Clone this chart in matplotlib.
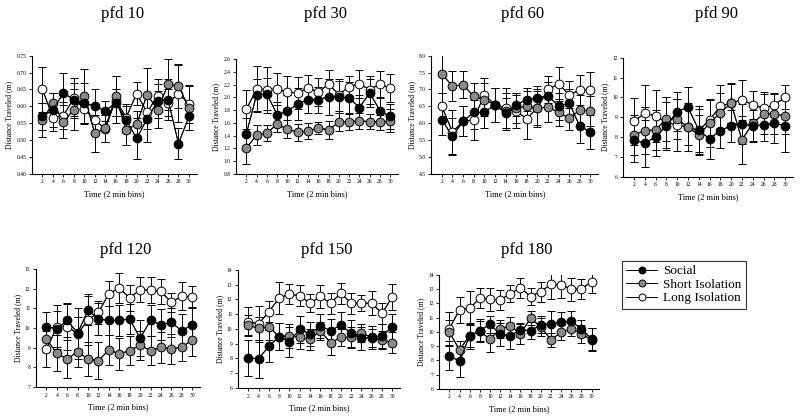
import numpy as np
import matplotlib
matplotlib.use("Agg")
import matplotlib.pyplot as plt
from matplotlib.ticker import FormatStrFormatter

plt.rcParams['font.family'] = ['Liberation Serif', 'DejaVu Serif']

# Time bins (2 min bins)
bins = [2, 4, 6, 8, 10, 12, 14, 16, 18, 20, 22, 24, 26, 28, 30]

# pfd 10
p10_social = [0.57, 0.59, 0.64, 0.62, 0.61, 0.60, 0.587, 0.61, 0.56, 0.505, 0.563, 0.615, 0.62, 0.49, 0.57]
p10_social_err = [0.04, 0.05, 0.06, 0.05, 0.06, 0.05, 0.03, 0.04, 0.04, 0.06, 0.07, 0.05, 0.06, 0.045, 0.04]
p10_short = [0.56, 0.61, 0.555, 0.59, 0.63, 0.52, 0.535, 0.63, 0.53, 0.547, 0.635, 0.59, 0.665, 0.66, 0.595]
p10_short_err = [0.05, 0.03, 0.05, 0.06, 0.08, 0.055, 0.04, 0.06, 0.045, 0.04, 0.08, 0.055, 0.075, 0.065, 0.065]
p10_long = [0.65, 0.567, 0.572, 0.625, 0.592, 0.56, 0.533, 0.62, 0.567, 0.638, 0.582, 0.632, 0.61, 0.638, 0.607]
p10_long_err = [0.067, 0.04, 0.04, 0.06, 0.045, 0.04, 0.04, 0.07, 0.04, 0.035, 0.05, 0.05, 0.04, 0.085, 0.055]

# pfd 30
p30_social = [1.425, 2.04, 2.05, 1.73, 1.78, 1.90, 1.96, 1.96, 2.01, 2.00, 1.99, 1.84, 2.07, 1.79, 1.70]
p30_social_err = [0.25, 0.25, 0.25, 0.20, 0.25, 0.25, 0.20, 0.20, 0.28, 0.25, 0.25, 0.20, 0.22, 0.20, 0.20]
p30_short = [1.20, 1.41, 1.44, 1.58, 1.50, 1.45, 1.47, 1.52, 1.49, 1.61, 1.62, 1.63, 1.62, 1.61, 1.63]
p30_short_err = [0.25, 0.15, 0.12, 0.12, 0.14, 0.13, 0.12, 0.10, 0.14, 0.14, 0.13, 0.12, 0.12, 0.12, 0.18]
p30_long = [1.81, 2.13, 2.12, 2.13, 2.08, 2.07, 2.15, 2.08, 2.21, 2.04, 2.17, 2.21, 2.12, 2.21, 2.14]
p30_long_err = [0.30, 0.36, 0.36, 0.25, 0.25, 0.25, 0.20, 0.22, 0.22, 0.25, 0.17, 0.22, 0.22, 0.20, 0.22]

# pfd 60
p60_social = [6.11, 5.61, 6.06, 6.32, 6.32, 6.55, 6.30, 6.55, 6.70, 6.75, 6.82, 6.50, 6.60, 5.91, 5.75]
p60_social_err = [0.45, 0.55, 0.45, 0.50, 0.45, 0.50, 0.45, 0.35, 0.35, 0.35, 0.40, 0.40, 0.40, 0.50, 0.50]
p60_short = [7.46, 7.10, 7.14, 6.80, 6.70, 6.55, 6.35, 6.45, 6.50, 6.45, 6.48, 6.32, 6.15, 6.39, 6.37]
p60_short_err = [0.55, 0.45, 0.40, 0.40, 0.50, 0.50, 0.55, 0.45, 0.45, 0.50, 0.45, 0.40, 0.35, 0.45, 0.45]
p60_long = [6.50, 5.74, 6.06, 6.10, 6.85, 6.55, 6.45, 6.35, 6.14, 6.45, 7.00, 7.16, 6.85, 6.98, 6.98]
p60_long_err = [0.40, 0.65, 0.45, 0.60, 0.50, 0.50, 0.60, 0.50, 0.60, 0.55, 0.40, 0.50, 0.40, 0.45, 0.55]

# pfd 90
p90_social = [7.86, 7.69, 8.03, 8.57, 9.29, 9.51, 8.36, 7.91, 8.33, 8.58, 8.67, 8.57, 8.62, 8.70, 8.57]
p90_social_err = [1.1, 1.2, 1.0, 1.2, 1.0, 1.0, 1.2, 1.0, 0.9, 0.8, 1.0, 0.8, 0.8, 1.0, 1.3]
p90_short = [8.11, 8.33, 8.36, 8.92, 8.92, 8.50, 8.11, 8.70, 9.24, 9.70, 7.86, 8.70, 9.17, 9.17, 9.07]
p90_short_err = [1.0, 1.2, 1.0, 1.1, 1.0, 0.9, 1.0, 1.2, 1.0, 1.0, 1.2, 0.9, 1.0, 1.0, 0.9]
p90_long = [8.79, 9.21, 9.07, 8.74, 8.62, 8.50, 8.33, 8.87, 9.55, 9.72, 9.89, 9.63, 9.46, 9.63, 10.02]
p90_long_err = [1.2, 1.4, 1.3, 1.3, 1.3, 1.2, 1.1, 1.0, 1.1, 1.0, 1.0, 0.7, 0.8, 0.6, 0.6]

# pfd 120
p120_social = [10.08, 9.95, 10.39, 9.75, 10.90, 10.46, 10.39, 10.39, 10.46, 9.49, 10.39, 10.17, 10.29, 9.86, 10.17]
p120_social_err = [0.75, 0.9, 0.85, 0.8, 0.75, 0.8, 0.75, 0.8, 0.75, 0.9, 0.8, 0.8, 0.75, 0.85, 0.9]
p120_short = [9.44, 8.73, 8.42, 8.81, 8.42, 8.34, 8.90, 8.69, 8.86, 9.12, 8.86, 9.02, 8.95, 9.02, 9.41]
p120_short_err = [0.65, 0.9, 0.95, 0.8, 0.85, 0.95, 0.75, 0.8, 0.75, 0.75, 0.75, 0.8, 0.75, 0.7, 0.85]
p120_long = [8.93, 10.05, 10.08, 9.71, 10.42, 10.80, 11.75, 12.03, 11.53, 11.95, 11.92, 11.86, 11.30, 11.63, 11.58]
p120_long_err = [0.9, 1.1, 1.2, 1.3, 1.3, 0.6, 0.65, 0.75, 0.65, 0.65, 0.65, 0.65, 0.5, 0.7, 0.55]

# pfd 150
p150_social = [8.04, 7.97, 8.83, 9.47, 9.13, 9.97, 9.65, 10.20, 9.88, 10.26, 9.70, 9.36, 9.42, 9.54, 10.10]
p150_social_err = [1.2, 1.3, 1.1, 0.9, 1.0, 0.9, 0.8, 0.8, 0.8, 0.9, 0.9, 0.8, 0.8, 0.8, 0.9]
p150_short = [10.26, 10.04, 10.15, 9.47, 9.54, 9.42, 9.29, 9.88, 9.06, 9.42, 9.42, 9.74, 9.40, 9.24, 9.08]
p150_short_err = [0.7, 0.8, 0.9, 0.9, 0.8, 0.8, 0.7, 0.6, 0.8, 0.6, 0.7, 0.6, 0.6, 0.6, 0.7]
p150_long = [10.49, 10.33, 11.17, 12.08, 12.37, 12.24, 11.74, 12.20, 11.74, 12.42, 11.74, 11.74, 11.74, 11.06, 12.15]
p150_long_err = [1.0, 1.2, 0.7, 1.1, 0.7, 0.7, 0.6, 0.8, 0.7, 0.7, 0.7, 0.55, 0.8, 0.7, 0.9]

# pfd 180
p180_social = [8.33, 7.93, 9.73, 10.08, 10.52, 9.84, 9.73, 10.15, 10.08, 10.50, 10.57, 10.66, 10.73, 10.21, 9.50]
p180_social_err = [1.0, 1.1, 0.9, 0.8, 0.6, 0.8, 0.9, 0.5, 0.6, 0.6, 0.9, 0.7, 0.7, 0.6, 0.8]
p180_short = [9.96, 8.75, 9.73, 10.03, 9.50, 10.20, 10.43, 9.85, 10.97, 10.34, 9.45, 9.96, 10.22, 9.85, 9.45]
p180_short_err = [0.9, 0.6, 0.8, 0.7, 0.9, 0.6, 0.6, 0.7, 0.5, 0.6, 0.5, 0.5, 0.5, 0.6, 0.8]
p180_long = [10.22, 11.55, 11.66, 12.36, 12.29, 12.25, 12.67, 13.11, 12.48, 12.83, 13.34, 13.30, 13.00, 13.00, 13.53]
p180_long_err = [1.2, 0.9, 1.2, 0.7, 0.8, 0.7, 0.6, 0.7, 0.6, 0.7, 1.0, 0.9, 0.8, 0.7, 0.8]

panels = [
    # title, axes rect, ylim, ystep, fmt, data
    ("pfd 10", [0.040, 0.585, 0.206, 0.282], (0.40, 0.75), 0.05, '%.2f',
     (p10_social, p10_social_err, p10_short, p10_short_err, p10_long, p10_long_err)),
    ("pfd 30", [0.295, 0.585, 0.2025, 0.274], (0.8, 2.6), 0.2, '%.1f',
     (p30_social, p30_social_err, p30_short, p30_short_err, p30_long, p30_long_err)),
    ("pfd 60", [0.539, 0.585, 0.209, 0.282], (4.5, 8.0), 0.5, '%.1f',
     (p60_social, p60_social_err, p60_short, p60_short_err, p60_long, p60_long_err)),
    ("pfd 90", [0.779, 0.578, 0.2125, 0.284], (6, 12), 1, '%d',
     (p90_social, p90_social_err, p90_short, p90_short_err, p90_long, p90_long_err)),
    ("pfd 120", [0.045, 0.076, 0.205, 0.282], (7, 13), 1, '%d',
     (p120_social, p120_social_err, p120_short, p120_short_err, p120_long, p120_long_err)),
    ("pfd 150", [0.2975, 0.074, 0.2025, 0.282], (6, 14), 1, '%d',
     (p150_social, p150_social_err, p150_short, p150_short_err, p150_long, p150_long_err)),
    ("pfd 180", [0.549, 0.072, 0.20, 0.272], (6, 14), 1, '%d',
     (p180_social, p180_social_err, p180_short, p180_short_err, p180_long, p180_long_err)),
]

fig = plt.figure(figsize=(8, 4.19), dpi=100)

styles = [("Long Isolation", "white"), ("Short Isolation", "#8a8a8a"), ("Social", "black")]

handles = {}
for title, rect, ylim, ystep, fmt, data in panels:
    ax = fig.add_axes(rect)
    soc, soc_e, sho, sho_e, lon, lon_e = data
    series = {"Social": (soc, soc_e), "Short Isolation": (sho, sho_e), "Long Isolation": (lon, lon_e)}
    for name, fc in styles:
        y, e = series[name]
        ax.errorbar(bins, y, yerr=e, color='black', lw=0.7, elinewidth=0.7,
                    capsize=3, capthick=0.7, zorder=2)
        h, = ax.plot(bins, y, 'o-', color='black', lw=0.7, markersize=6.3,
                     markerfacecolor=fc, markeredgecolor='black', markeredgewidth=0.7, zorder=3)
        handles[name] = h
    ax.set_xlim(0, 31.5)
    ax.set_ylim(*ylim)
    ax.set_xticks(bins)
    ax.set_yticks(np.arange(ylim[0], ylim[1] + ystep / 2, ystep))
    ax.yaxis.set_major_formatter(FormatStrFormatter(fmt))
    ax.spines['top'].set_visible(False)
    ax.spines['right'].set_visible(False)
    for s in ('left', 'bottom'):
        ax.spines[s].set_linewidth(0.8)
    ax.tick_params(labelsize=4, length=2, width=0.6, pad=2)
    ax.set_xlabel("Time (2 min bins)", fontsize=6, labelpad=4)
    ax.set_ylabel("Distance Traveled (m)", fontsize=5.5, labelpad=2)
    pos = ax.get_position()
    ty = 1 - 14 / 419 if pos.y0 > 0.5 else 1 - 250 / 419
    fig.text(pos.x0 + pos.width / 2 + 0.01, ty, title, fontsize=12, ha='center', va='center')

leg = fig.legend([handles["Social"], handles["Short Isolation"], handles["Long Isolation"]],
                 ["Social", "Short Isolation", "Long Isolation"],
                 loc='upper left', bbox_to_anchor=(0.769, 0.394), fontsize=9.5,
                 frameon=True, fancybox=False, edgecolor='black', handlelength=2.3,
                 labelspacing=0.1, borderpad=0.35, handletextpad=0.5)
leg.get_frame().set_linewidth(0.8)
for lh in leg.legend_handles:
    lh.set_markersize(5)

fig.savefig("out.png", dpi=100)
